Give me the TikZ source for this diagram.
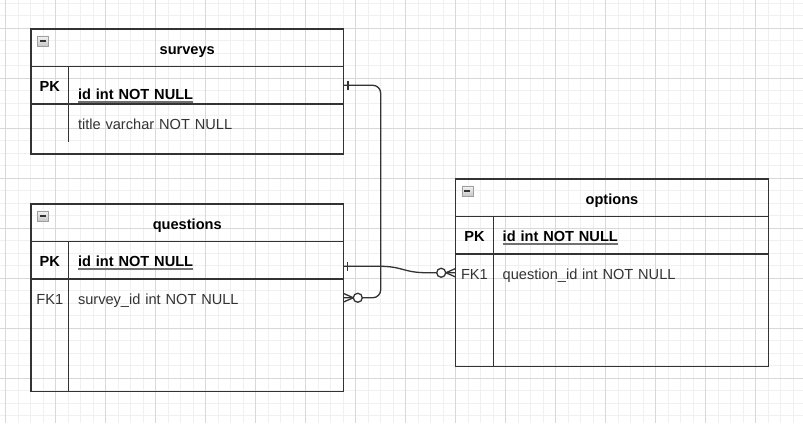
\documentclass[tikz,border=0pt]{standalone}
\usepackage{fontspec}
\setmainfont{Liberation Sans}
\usepackage{tikz}
\usetikzlibrary{positioning}
\usetikzlibrary{calc}

\definecolor{erline}{HTML}{333333}
\definecolor{txtdark}{HTML}{333333}
\definecolor{ulgray}{HTML}{707070}
\definecolor{gridmin}{HTML}{F0F0F0}
\definecolor{gridmaj}{HTML}{D8D8D8}

\newsavebox\pkbox
\newcommand{\pkline}[1]{\sbox\pkbox{#1}\rlap{\color{ulgray}\rule[-3.6pt]{\wd\pkbox}{1.8pt}}\usebox\pkbox}

\begin{document}
\begin{tikzpicture} [
    x=1pt, y=-1pt,      % pixel coordinates, y going down
    node distance=0pt,  % table cells touch each other
    ]
% -------------------------------------------------
\tikzset{
  base/.style={draw=erline, line width=1.3pt, inner sep=0pt, outer sep=0pt, text height=12.5pt, text depth=0pt, font=\fontsize{14.6}{18}\selectfont, text=txtdark},
  head/.style={base, anchor=north west, minimum width=312.5pt, minimum height=37.5pt, font=\fontsize{14.6}{18}\selectfont\bfseries, text=black},
  keycell/.style={base, minimum width=37.5pt, minimum height=37.5pt},
  fieldcell/.style={base, minimum height=37.5pt, text width=256pt, inner xsep=9.5pt, align=left},
  bodybox/.style={base, anchor=north west, minimum width=312.5pt},
  keytxt/.style={keycell, draw=none},
  fieldtxt/.style={fieldcell, draw=none},
  pkey/.style={font=\fontsize{14.6}{18}\selectfont\bfseries, text=black},
  minbox/.style={draw=gray!75, top color=gray!8, bottom color=gray!45, minimum width=11pt, minimum height=10.5pt, inner sep=0pt,
    path picture={\draw[line width=1.3pt, black!80] ([xshift=2.5pt]path picture bounding box.west) -- ([xshift=-2.5pt]path picture bounding box.east);}},
  rel/.style={draw=erline, line width=1.3pt},
  divider/.style={draw=erline, line width=1.3pt},
  gridminor/.style={draw=gridmin, line width=0.8pt},
  gridmajor/.style={draw=gridmaj, line width=0.8pt}
}

    % background and grid
    \fill[white] (0,0) rectangle (803,423);
    \useasboundingbox (0,0) rectangle (803,423);
    \foreach \i in {0,...,63} \draw[gridminor] ({5.5+12.5*\i},0) -- ({5.5+12.5*\i},423);
    \foreach \j in {0,...,33} \draw[gridminor] (0,{3.3+12.5*\j}) -- (803,{3.3+12.5*\j});
    \foreach \i in {0,...,15} \draw[gridmajor] ({5.5+50*\i},0) -- ({5.5+50*\i},423);
    \foreach \j in {0,...,7} \draw[gridmajor] (0,{28.3+50*\j}) -- (803,{28.3+50*\j});

    % surveys
    \node [head] (svh) at (31,29) {surveys};
    \node [minbox, below right=6.5pt and 6pt of svh.north west] (svmin) {};
    \node [keycell, pkey, anchor=north west] (svpk) at (svh.south west) {PK};
    \node [fieldcell, pkey, right=of svpk] (svid) {\raisebox{-8pt}{\pkline{id int NOT NULL}}};
    \node [bodybox, minimum height=50pt] (svbody) at (svpk.south west) {};
    \node [fieldtxt, below=of svid] (svtitle) {title varchar NOT NULL};
    \draw [divider] (svpk.south east) -- (svtitle.south west);

    % questions
    \node [head] (qh) at (31,204) {questions};
    \node [minbox, below right=6.5pt and 6pt of qh.north west] (qmin) {};
    \node [keycell, pkey, anchor=north west] (qpk) at (qh.south west) {PK};
    \node [fieldcell, pkey, right=of qpk] (qid) {\pkline{id int NOT NULL}};
    \node [bodybox, minimum height=112.5pt] (qbody) at (qpk.south west) {};
    \node [keytxt, below=of qpk] (qfk) {FK1};
    \node [fieldtxt, below=of qid] (qsid) {survey\_id int NOT NULL};
    \draw [divider] (qpk.south east) -- (qpk.south east |- qbody.south);

    % options
    \node [head] (oph) at (455.7,179) {options};
    \node [minbox, below right=6.5pt and 6pt of oph.north west] (opmin) {};
    \node [keycell, pkey, anchor=north west] (oppk) at (oph.south west) {PK};
    \node [fieldcell, pkey, right=of oppk] (opid) {\pkline{id int NOT NULL}};
    \node [bodybox, minimum height=112.5pt] (opbody) at (oppk.south west) {};
    \node [keytxt, below=of oppk] (opfk) {FK1};
    \node [fieldtxt, below=of opid] (opqid) {question\_id int NOT NULL};
    \draw [divider] (oppk.south east) -- (oppk.south east |- opbody.south);

    % surveys 1 -- 0..n questions
    \draw [rel, rounded corners=8pt] (svid.east) -- ++(37.2,0) |- (qsid.east);
    \draw [rel] ($(svid.east)+(4.5,-4.5)$) -- ++(0,9);                          % one bar
    \draw [rel] ($(qsid.east)+(0,-4.3)$) -- ++(9.8,4.3) -- ++(-9.8,4.3);        % crow's foot
    \draw [rel, fill=white] ($(qsid.east)+(14.3,0)$) circle (4.5pt);             % zero circle

    % questions 1 -- 0..n options
    \draw [rel] ($(qid.east)+(0,6)$) -- ++(35,0) .. controls +(25,0) and +(-25,0) .. ($(opfk.west)+(-28,0)$) -- (opfk.west);
    \draw [rel] ($(qid.east)+(3.8,1.5)$) -- ++(0,9);                           % one bar
    \draw [rel] ($(opfk.west)+(0,-4.3)$) -- ++(-9.8,4.3) -- ++(9.8,4.3);        % crow's foot
    \draw [rel, fill=white] ($(opfk.west)+(-14.5,0)$) circle (4.5pt);            % zero circle

\end{tikzpicture}
\end{document}
